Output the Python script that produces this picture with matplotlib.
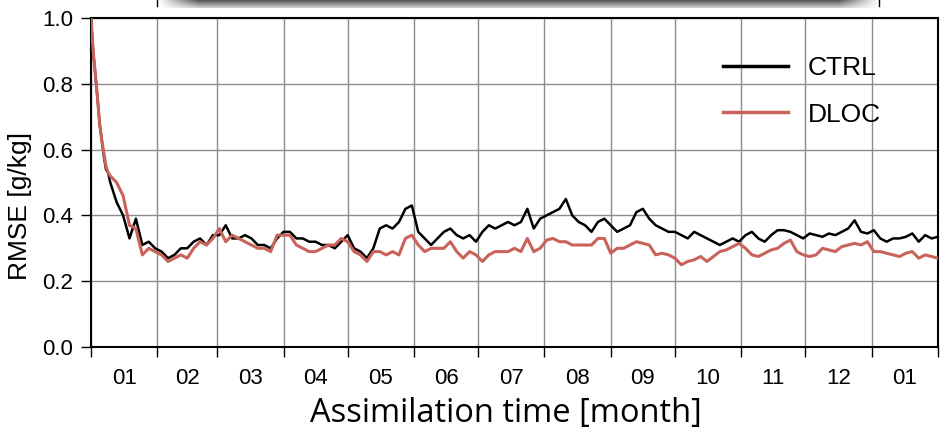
import numpy as np
import matplotlib
matplotlib.use('Agg')
import matplotlib.pyplot as plt

# Assimilation day (0 = 1 Jan) and RMSE for both experiments [g/kg]
days = [0, 1, 2, 3, 4, 5, 6, 7, 8] + list(range(9, 397, 3))

ctrl = [1.00, 0.90, 0.83, 0.76, 0.68, 0.63, 0.58, 0.54, 0.53,
        0.50, 0.44, 0.40, 0.33, 0.39, 0.31, 0.32, 0.30, 0.29, 0.27,
        0.28, 0.30, 0.30, 0.32, 0.33, 0.31, 0.34, 0.34, 0.37, 0.33,
        0.33, 0.34, 0.33, 0.31, 0.31, 0.30, 0.33, 0.35, 0.35, 0.33,
        0.33, 0.32, 0.32, 0.31, 0.31, 0.30, 0.32, 0.34, 0.30, 0.29,
        0.27, 0.30, 0.36, 0.37, 0.36, 0.38, 0.42, 0.43, 0.35, 0.33,
        0.31, 0.33, 0.35, 0.36, 0.34, 0.33, 0.34, 0.32, 0.35, 0.37,
        0.36, 0.37, 0.38, 0.37, 0.38, 0.42, 0.36, 0.39, 0.40, 0.41,
        0.42, 0.45, 0.40, 0.38, 0.37, 0.35, 0.38, 0.39, 0.37, 0.35,
        0.36, 0.37, 0.41, 0.42, 0.39, 0.37, 0.36, 0.35, 0.35, 0.34,
        0.33, 0.35, 0.34, 0.33, 0.32, 0.31, 0.32, 0.33, 0.32, 0.34,
        0.35, 0.33, 0.32, 0.34, 0.355, 0.355, 0.35, 0.34, 0.33, 0.345,
        0.34, 0.335, 0.345, 0.34, 0.35, 0.36, 0.385, 0.35, 0.345, 0.355,
        0.33, 0.32, 0.33, 0.33, 0.335, 0.345, 0.32, 0.34, 0.33, 0.335]

dloc = [1.00, 0.90, 0.83, 0.76, 0.68, 0.63, 0.59, 0.55, 0.53,
        0.52, 0.50, 0.46, 0.37, 0.36, 0.28, 0.30, 0.29, 0.28, 0.26,
        0.27, 0.28, 0.27, 0.30, 0.32, 0.31, 0.33, 0.36, 0.32, 0.34,
        0.33, 0.32, 0.31, 0.30, 0.30, 0.29, 0.34, 0.34, 0.34, 0.31,
        0.30, 0.29, 0.29, 0.30, 0.31, 0.31, 0.33, 0.32, 0.29, 0.28,
        0.26, 0.29, 0.29, 0.28, 0.29, 0.28, 0.33, 0.34, 0.31, 0.29,
        0.30, 0.30, 0.30, 0.32, 0.29, 0.27, 0.29, 0.28, 0.26, 0.28,
        0.29, 0.29, 0.29, 0.30, 0.29, 0.33, 0.29, 0.30, 0.325, 0.33,
        0.32, 0.32, 0.31, 0.31, 0.31, 0.31, 0.33, 0.33, 0.285, 0.30,
        0.30, 0.31, 0.32, 0.315, 0.31, 0.28, 0.285, 0.28, 0.27, 0.25,
        0.26, 0.265, 0.275, 0.26, 0.275, 0.29, 0.295, 0.305, 0.315, 0.30,
        0.28, 0.275, 0.285, 0.295, 0.30, 0.315, 0.325, 0.29, 0.28, 0.275,
        0.28, 0.30, 0.295, 0.29, 0.305, 0.31, 0.315, 0.31, 0.32, 0.29,
        0.29, 0.285, 0.28, 0.275, 0.285, 0.29, 0.27, 0.28, 0.275, 0.27]

# month boundaries (days since 1 Jan) and month labels
month_edges = [0, 31, 59, 90, 120, 151, 181, 212, 243, 273, 304, 334, 365, 396]
month_labels = ['01', '02', '03', '04', '05', '06', '07', '08', '09',
                '10', '11', '12', '01']

plt.rcParams['font.family'] = ['Liberation Sans', 'DejaVu Sans']

fig = plt.figure(figsize=(9.41, 4.34), dpi=100)
ax = fig.add_axes([91/941, 1 - 347/434, 847/941, 329/434])

ax.plot(days, ctrl, color='black', lw=1.8, label='CTRL', zorder=3)
ax.plot(days, dloc, color='#c9635a', lw=2.2, label='DLOC', zorder=4)

ax.set_xlim(month_edges[0], month_edges[-1])
ax.set_ylim(0.0, 1.0)

ax.set_yticks(np.arange(0, 1.01, 0.2))
ax.set_yticklabels(['%.1f' % v for v in np.arange(0, 1.01, 0.2)])
ax.set_xticks(month_edges)
ax.set_xticklabels([])
mids = [(a + b) / 2 for a, b in zip(month_edges[:-1], month_edges[1:])]
ax.set_xticks(mids, minor=True)
ax.set_xticklabels(month_labels, minor=True)
ax.tick_params(axis='x', which='minor', length=0, pad=15, labelsize=16)
ax.tick_params(axis='x', which='major', length=7, width=1.0, direction='out')
ax.tick_params(axis='y', length=7, width=1.0, direction='out', labelsize=16,
               pad=6)

ax.grid(True, which='major', color='#8c8c8c', lw=1.0)
for s in ax.spines.values():
    s.set_linewidth(1.5)

ax.set_ylabel('RMSE [g/kg]', fontsize=19, labelpad=7)
ax.yaxis.label.set_y(0.43)
ax.set_xlabel('Assimilation time [month]', fontsize=23.5, family='Open Sans',
              labelpad=6)
ax.xaxis.label.set_x(0.49)

leg = ax.legend(loc='upper left', bbox_to_anchor=(0.746, 0.884),
                borderaxespad=0, borderpad=0, frameon=False,
                fontsize=19, handlelength=2.46, handletextpad=0.75,
                labelspacing=0.85)
for h in leg.get_lines():
    h.set_linewidth(2.5)

# shaded box edge peeking in at the top of the figure
bar = fig.add_axes([157/941, 1 - 8/434, (880 - 157)/941, 8/434])
vert = np.linspace(0.35, 0.8, 8)[:, None]
horiz = np.ones(200)[None, :]
horiz[0, :12] = np.linspace(0, 1, 12)
horiz[0, -12:] = np.linspace(1, 0, 12)
shade = 1 - (1 - vert) * horiz
bar.imshow(shade, cmap='gray', vmin=0, vmax=1, aspect='auto',
           interpolation='bilinear')
bar.axis('off')
fig.add_artist(plt.Line2D([157/941, 157/941], [1, 1 - 6/434], color='black',
                          lw=1.0, transform=fig.transFigure))
fig.add_artist(plt.Line2D([879/941, 879/941], [1, 1 - 6/434], color='black',
                          lw=1.0, transform=fig.transFigure))

fig.savefig('out.png', dpi=100)
